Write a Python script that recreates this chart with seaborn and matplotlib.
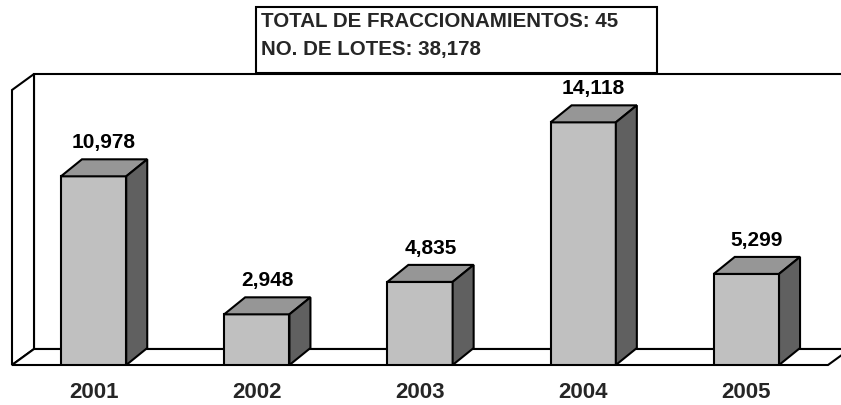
import numpy as np
import matplotlib.pyplot as plt
import matplotlib.patches as mpatches
import pandas as pd
import seaborn as sns

years = ['2001', '2002', '2003', '2004', '2005']
lotes = [10978, 2948, 4835, 14118, 5299]
total_fracc = 45

sns.set_style('white')
plt.rcParams['font.family'] = ['Liberation Sans', 'DejaVu Sans']
plt.rcParams['font.weight'] = 'bold'

df = pd.DataFrame({'year': years, 'lotes': lotes})

W, H = 841, 405
fig = plt.figure(figsize=(W / 100, H / 100), dpi=100)
fig.patch.set_facecolor('white')
# front plane of the 3d box: x 12..828 px, y 365 (0) .. 90 (top)
ax = fig.add_axes([12 / W, 40 / H, 816 / W, 275 / H])
ax.set_facecolor('none')

ymax = 16000
ax.set_xlim(-0.5, 4.5)
ax.set_ylim(0, ymax)

px_x = 5 / 816.0        # data units per pixel in x
px_y = ymax / 275.0     # data units per pixel in y

# depth of floor / walls and of the bars
fdx, fdy = 22 * px_x, 16 * px_y
bdx, bdy = 21 * px_x, 17 * px_y

lw = 1.5
# floor, left wall, back wall
floor = [(-0.5, 0), (4.5, 0), (4.5 + fdx, fdy), (-0.5 + fdx, fdy)]
left_wall = [(-0.5, 0), (-0.5, ymax), (-0.5 + fdx, ymax + fdy), (-0.5 + fdx, fdy)]
back_wall = [(-0.5 + fdx, fdy), (-0.5 + fdx, ymax + fdy), (4.5 + fdx, ymax + fdy), (4.5 + fdx, fdy)]
for pts in (back_wall, left_wall, floor):
    ax.add_patch(mpatches.Polygon(pts, closed=True, facecolor='white', edgecolor='black',
                                  linewidth=lw, clip_on=False, zorder=0.5, joinstyle='miter'))

sns.barplot(data=df, x='year', y='lotes', color='#C0C0C0', saturation=1, width=0.4,
            edgecolor='black', linewidth=lw, ax=ax)

bars = [p for p in ax.patches if isinstance(p, mpatches.Rectangle)]
for p, v in zip(bars, lotes):
    p.set_zorder(3)
    x0, w, h = p.get_x(), p.get_width(), p.get_height()
    top = [(x0, h), (x0 + w, h), (x0 + w + bdx, h + bdy), (x0 + bdx, h + bdy)]
    side = [(x0 + w, 0), (x0 + w, h), (x0 + w + bdx, h + bdy), (x0 + w + bdx, bdy)]
    ax.add_patch(mpatches.Polygon(top, closed=True, facecolor='#969696', edgecolor='black',
                                  linewidth=lw, zorder=3, clip_on=False, joinstyle='miter'))
    ax.add_patch(mpatches.Polygon(side, closed=True, facecolor='#606060', edgecolor='black',
                                  linewidth=lw, zorder=3, clip_on=False, joinstyle='miter'))
    ax.annotate(f'{v:,}', xy=(x0 + w / 2 + bdx / 2, h + bdy), xytext=(0, 8),
                textcoords='offset points', ha='center', va='baseline',
                fontsize=15, fontweight='bold', color='black')

ax.set_xticks(range(len(years)))
ax.set_xticklabels(years, fontsize=16, fontweight='bold')
ax.set_xticks(np.arange(-0.5, 5, 1), minor=True)
ax.tick_params(axis='x', which='major', length=0, pad=12.5)
ax.tick_params(axis='x', which='minor', length=5, width=lw, direction='out', color='black')
ax.set_yticks([])
ax.set_xlabel('')
ax.set_ylabel('')
for s in ax.spines.values():
    s.set_visible(False)

# summary box at top
fig.patches.append(mpatches.Rectangle((256 / W, (H - 73) / H), 401 / W, 66 / H,
                                      transform=fig.transFigure, facecolor='white',
                                      edgecolor='black', linewidth=lw, zorder=5))
fig.text(261 / W, (H - 27) / H, f'TOTAL DE FRACCIONAMIENTOS: {total_fracc}',
         fontsize=14.8, fontweight='bold', va='baseline', ha='left', zorder=6)
fig.text(261 / W, (H - 55) / H, f'NO. DE LOTES: {sum(lotes):,}',
         fontsize=14.8, fontweight='bold', va='baseline', ha='left', zorder=6)

plt.savefig('out.png', dpi=100, facecolor='white')
